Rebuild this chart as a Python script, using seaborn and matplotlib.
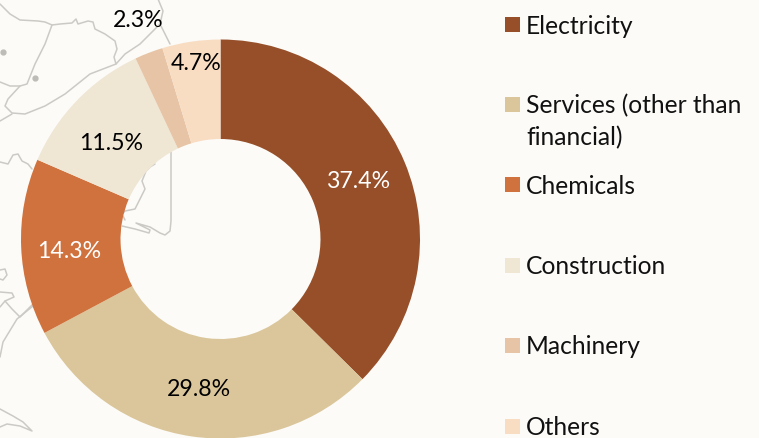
import seaborn as sns
import numpy as np
import matplotlib.pyplot as plt
from matplotlib.patches import Rectangle

categories = ['Electricity', 'Services (other than\nfinancial)', 'Chemicals', 'Construction', 'Machinery', 'Others']
shares = [37.4, 29.8, 14.3, 11.5, 2.3, 4.7]
slice_colors = ['#964F29', '#DAC69A', '#D0723E', '#EFE6D4', '#E6C4A5', '#F8DDC3']
label_colors = ['white', 'black', 'white', 'black', 'black', 'black']

# label centres and legend rows, in picture pixels
label_x = [358, 199, 69, 111, 138, 196]
label_y = [182, 390, 251, 143, 20, 64]
legend_y = [26, 106, 187, 267, 347, 428]
marker_y = [25, 105, 185, 266, 346, 427]

# faint map behind the chart
map_lines = [
    [(0, 5), (10, 15), (20, 21), (38, 22), (45, 23), (52, 26), (60, 25), (72, 24), (76, 20), (78, 25), (88, 22), (93, 23),
     (95, 30), (105, 35), (115, 42), (117, 50), (114, 58), (116, 65), (125, 55), (140, 45), (150, 35), (160, 25), (163, 12), (158, 0)],
    [(52, 26), (45, 45), (35, 65), (27, 85), (20, 87), (10, 87), (0, 83)],
    [(20, 87), (8, 100), (5, 107), (12, 114), (25, 115), (45, 107), (65, 95), (90, 75), (116, 65)],
    [(0, 122), (12, 115)],
    [(160, 25), (170, 45)],
    [(171, 153), (171, 222), (170, 232), (165, 236), (160, 234), (150, 228), (136, 224), (150, 231), (149, 234), (135, 230), (122, 227)],
    [(155, 165), (150, 168), (146, 172), (142, 182), (145, 190), (140, 200), (135, 210), (125, 212), (122, 215), (125, 221)],
    [(0, 163), (8, 165), (13, 156), (18, 155), (22, 162), (28, 165), (32, 170)],
    [(0, 271), (5, 270), (7, 276), (3, 281), (0, 280)],
    [(0, 293), (12, 294), (14, 298), (5, 302), (0, 308)],
    [(5, 302), (12, 310), (20, 318), (28, 310), (33, 305)],
    [(33, 307), (17, 320), (3, 343), (0, 358)],
    [(0, 410), (13, 417), (23, 423), (32, 432), (20, 427), (7, 425), (0, 428)],
]
map_dots = [(3, 53), (35, 79)]

sns.set_theme(style='white')
plt.rcParams['font.family'] = ['Lato', 'DejaVu Sans']

W, H = 759, 439
bg = '#FCFBF8'
fig = plt.figure(figsize=(W / 100, H / 100), dpi=100, facecolor=bg)
ax = fig.add_axes([0, 0, 1, 1])
ax.set_facecolor(bg)

for line in map_lines:
    pts = np.array(line)
    ax.plot(pts[:, 0], H - pts[:, 1], color='#CBCAC5', lw=1.1, zorder=1)
for x, y in map_dots:
    ax.plot(x, H - y, 'o', color='#BDBCB6', ms=3.5, zorder=1)

wedges, _ = ax.pie(shares, colors=slice_colors, startangle=90, counterclock=False,
                   center=(220.5, H - 240), radius=199.5, frame=True,
                   wedgeprops={'width': 99.5, 'linewidth': 0, 'zorder': 2})

ax.set_xlim(0, W)
ax.set_ylim(0, H)
ax.set_aspect('equal')
ax.axis('off')

for share, x, y, c in zip(shares, label_x, label_y, label_colors):
    ax.text(x, H - y, f'{share}%', color=c, fontsize=16.7, ha='center', va='center', zorder=3)

for name, y, my, c in zip(categories, legend_y, marker_y, slice_colors):
    ax.add_patch(Rectangle((505, H - my - 7.5), 15, 15, color=c, lw=0, zorder=3))
    for i, part in enumerate(name.split('\n')):
        ax.text(526, H - y - i * 32, part, color='#111111', fontsize=17.7, ha='left', va='center', zorder=3)

plt.savefig('out.png', dpi=100, facecolor=fig.get_facecolor())
